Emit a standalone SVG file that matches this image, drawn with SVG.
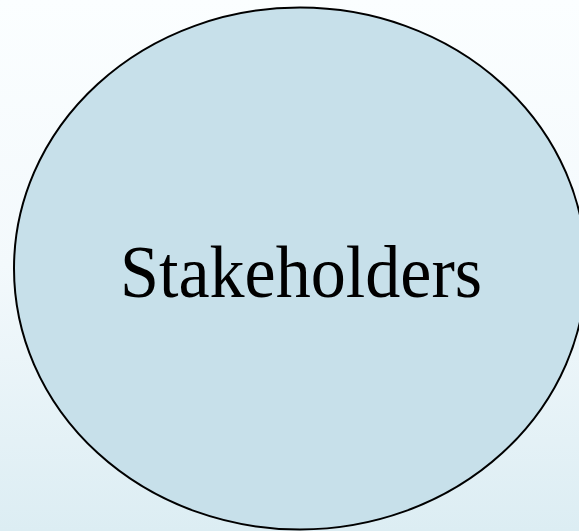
<svg xmlns="http://www.w3.org/2000/svg" width="579" height="531" viewBox="0 0 579 531">
  <defs>
    <linearGradient id="bg" x1="0" y1="0" x2="0" y2="1">
      <stop offset="0" stop-color="#fbfeff"/>
      <stop offset="0.5" stop-color="#f3f9fc"/>
      <stop offset="1" stop-color="#dcedf3"/>
    </linearGradient>
    <style>
      .node-shape { fill: #c7e0ea; stroke: #000000; stroke-width: 2; }
      .node-label { font-family: "Liberation Serif", "DejaVu Serif", serif; font-size: 74px; fill: #000000; }
    </style>
  </defs>
  <!-- page background -->
  <rect x="0" y="0" width="579" height="531" fill="url(#bg)"/>
  <g id="connectors"/>
  <g id="stakeholders">
    <ellipse class="node-shape" cx="300" cy="268.5" rx="286" ry="261"/>
    <text class="node-label" x="301" y="297" text-anchor="middle" textLength="362" lengthAdjust="spacingAndGlyphs">Stakeholders</text>
  </g>
</svg>
